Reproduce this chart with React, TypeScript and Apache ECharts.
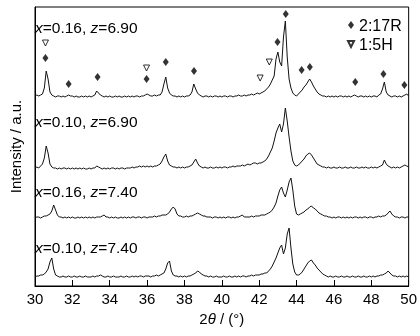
import React, { useEffect, useRef } from "react";
import * as echarts from "echarts";

// 2θ grid 30.0 … 50.0, step 0.1
const twoTheta: number[] = Array.from({ length: 201 }, (_, i) => +(30 + i * 0.1).toFixed(1));

// Intensities (a.u., above each trace's own baseline)
const t1_x016_z690 = [
  1,2,1,2,3,9,26,18,5,2,
  1,0,1,1,0,1,0,1,2,1,
  1,0,1,0,0,1,0,1,0,1,
  0,1,2,6,4,2,1,0,1,0,
  1,0,0,1,0,1,0,0,1,0,
  1,0,1,0,1,1,0,1,1,2,
  3,2,1,1,2,1,2,2,5,13,
  20,9,4,2,1,1,0,1,0,1,
  0,1,1,2,5,13,8,4,2,1,
  0,1,1,0,1,0,1,1,0,1,
  0,1,1,0,1,1,0,1,1,2,
  1,1,2,1,2,2,3,2,3,4,
  3,4,5,6,8,10,13,17,21,38,
  45,35,31,60,76,40,18,9,4,2,
  1,3,5,7,10,12,15,18,15,11,
  8,5,3,2,1,1,0,1,0,1,
  0,1,0,1,1,0,1,0,1,0,
  1,2,1,0,1,1,0,1,0,1,
  0,1,1,0,2,3,8,15,5,2,
  1,0,1,1,0,1,0,1,2,3,
  1,
];
const t2_x010_z690 = [
  1,2,1,3,5,11,23,16,5,2,
  1,1,0,1,0,1,1,0,1,0,
  1,0,1,0,1,0,1,0,0,1,
  0,1,1,3,2,1,0,1,0,1,
  0,1,1,0,1,0,1,1,0,1,
  1,1,2,1,2,2,3,2,3,2,
  3,2,3,2,3,3,4,5,8,12,
  15,8,4,3,2,2,1,2,1,2,
  1,2,2,3,4,7,10,6,3,2,
  1,2,1,1,2,1,1,2,1,2,
  1,2,2,1,2,2,3,2,3,3,
  3,4,3,4,5,4,5,6,6,5,
  6,6,7,8,10,13,17,21,28,36,
  41,45,37,45,61,48,32,18,8,4,
  3,4,6,8,10,13,15,16,14,11,
  8,5,4,3,2,2,1,2,1,1,
  2,1,1,2,1,1,2,1,1,2,
  1,1,2,1,1,2,1,2,1,1,
  2,1,2,1,2,3,4,9,5,3,
  2,1,2,1,2,1,2,3,4,3,
  2,
];
const t3_x016_z740 = [
  0,1,1,0,1,2,2,3,4,7,
  13,8,3,1,1,0,1,0,1,0,
  1,0,0,1,0,1,0,1,0,1,
  0,1,0,1,1,1,2,3,1,1,
  0,1,0,1,0,0,1,0,1,0,
  1,0,1,1,0,1,1,0,1,1,
  0,1,1,1,2,1,2,2,3,3,
  3,4,6,9,11,9,4,2,2,1,
  1,2,1,2,2,3,4,5,4,3,
  2,2,1,1,1,0,1,1,0,1,
  0,1,0,1,1,0,1,0,1,1,
  2,3,1,1,1,1,2,1,2,2,
  2,3,3,3,4,5,6,8,11,15,
  22,28,31,25,21,28,36,40,28,12,
  4,3,4,5,6,8,9,11,12,10,
  9,7,5,4,3,2,2,1,1,0,
  1,0,1,1,0,1,0,1,0,1,
  0,1,1,0,1,0,1,1,0,1,
  1,0,1,1,2,1,2,2,3,5,
  7,4,2,1,1,0,1,1,0,1,
  1,
];
const t4_x010_z740 = [
  1,2,2,3,3,4,6,9,16,20,
  9,3,2,1,1,2,1,1,2,1,
  1,2,1,1,2,1,1,2,1,1,
  1,2,1,2,2,3,2,1,1,2,
  1,1,2,1,1,1,2,1,1,2,
  1,1,2,1,2,1,2,2,1,2,
  2,2,1,2,2,3,2,3,4,5,
  9,15,17,7,3,2,2,1,2,1,
  2,1,2,2,3,4,5,7,6,4,
  3,2,2,1,2,1,1,2,1,1,
  1,2,1,1,2,1,1,2,1,2,
  1,2,2,1,2,2,3,2,3,3,
  3,4,4,5,5,7,9,12,16,20,
  25,30,33,24,30,44,50,30,14,6,
  3,3,4,6,9,12,15,17,18,15,
  13,10,8,6,4,3,2,1,2,1,
  1,2,1,1,2,1,1,2,1,1,
  2,1,1,2,1,1,2,1,1,2,
  1,2,1,2,2,3,3,4,5,7,
  5,3,2,2,1,2,1,2,1,2,
  1,
];

// vertical stacking offsets of the traces
const traceOffsets = [189, 117, 68, 8];
const traceLabels = ["{i|x}=0.16, {i|z}=6.90", "{i|x}=0.10, {i|z}=6.90", "{i|x}=0.16, {i|z}=7.40", "{i|x}=0.10, {i|z}=7.40"];
const traceLabelY = [27, 121, 191, 247];

// phase markers [2θ, height]
const phase217R: [number, number][] = [
  [30.56, 228], [31.8, 202], [33.35, 209], [35.97, 207], [37.0, 224], [38.51, 215],
  [42.98, 244], [43.42, 272], [44.27, 216], [44.71, 219], [47.14, 204], [48.65, 212], [49.77, 201],
];
const phase15H: [number, number][] = [
  [30.56, 243], [35.97, 218], [42.05, 208], [42.54, 224],
];

const xTicks = { min: 30, max: 50, interval: 2 };
const FONT = "'Liberation Sans', Arial, sans-serif";
const TRI = "path://M0,0L10,0L5,10Z";

export default function App() {
  const ref = useRef<HTMLDivElement>(null);
  useEffect(() => {
    if (!ref.current) return;
    const chart = echarts.init(ref.current, undefined, { renderer: "svg" });
    const traces = [t1_x016_z690, t2_x010_z690, t3_x016_z740, t4_x010_z740];
    const lineSeries = traces.map((vals, k) => ({
      type: "line",
      name: "trace" + k,
      data: twoTheta.map((t, i) => [t, traceOffsets[k] + vals[i]]),
      showSymbol: false,
      symbol: "none",
      lineStyle: { color: "#111", width: 1 },
      silent: true,
      z: 2,
    }));
    chart.setOption({
      animation: false,
      textStyle: { fontFamily: FONT },
      grid: { left: 32.5, right: 10.5, top: 7, bottom: 50, show: true, borderColor: "#000", borderWidth: 1, backgroundColor: "transparent" },
      xAxis: {
        type: "value",
        min: xTicks.min,
        max: xTicks.max,
        interval: xTicks.interval,
        name: "2{i|θ} / (°)",
        nameLocation: "middle",
        nameGap: 24,
        nameTextStyle: { fontSize: 15, color: "#000", fontFamily: FONT, rich: { i: { fontStyle: "italic", fontSize: 15, color: "#000", fontFamily: FONT } } },
        axisLine: { lineStyle: { color: "#000", width: 1 } },
        axisTick: { inside: true, length: 6, lineStyle: { color: "#000" } },
        axisLabel: { fontSize: 15, color: "#000", margin: 5, fontFamily: FONT },
        splitLine: { show: false },
      },
      yAxis: {
        type: "value",
        min: 0,
        max: 279,
        name: "Intensity / a.u.",
        nameLocation: "middle",
        nameGap: 12,
        nameTextStyle: { fontSize: 15, color: "#000", fontFamily: FONT },
        axisLine: { show: true, lineStyle: { color: "#000", width: 1 } },
        axisTick: { show: false },
        axisLabel: { show: false },
        splitLine: { show: false },
      },
      legend: {
        data: ["2:17R", "1:5H"],
        orient: "vertical",
        left: 347,
        top: 17,
        padding: 0,
        itemGap: 3,
        itemWidth: 6,
        itemHeight: 8,
        textStyle: { fontSize: 16, color: "#000", fontFamily: FONT, lineHeight: 16 },
      },
      series: [
        ...lineSeries,
        {
          type: "scatter",
          name: "2:17R",
          data: phase217R,
          symbol: "diamond",
          symbolSize: [6, 8],
          itemStyle: { color: "#000" },
          z: 3,
        },
        {
          type: "scatter",
          name: "1:5H",
          data: phase15H,
          symbol: TRI,
          symbolSize: [6, 6],
          itemStyle: { color: "#fff", borderColor: "#000", borderWidth: 1 },
          z: 3,
        },
      ],
      graphic: traceLabels.map((txt, k) => ({
        type: "text",
        x: 35,
        y: traceLabelY[k],
        style: {
          text: txt,
          fontSize: 15.5,
          fontFamily: FONT,
          fill: "#000",
          verticalAlign: "middle",
          rich: { i: { fontStyle: "italic", fontSize: 15.5, fontFamily: FONT, fill: "#000" } },
        },
      })),
    });
    return () => chart.dispose();
  }, []);
  return <div ref={ref} style={{ position: "fixed", left: 0, top: 0, width: 420, height: 336 }} />;
}
